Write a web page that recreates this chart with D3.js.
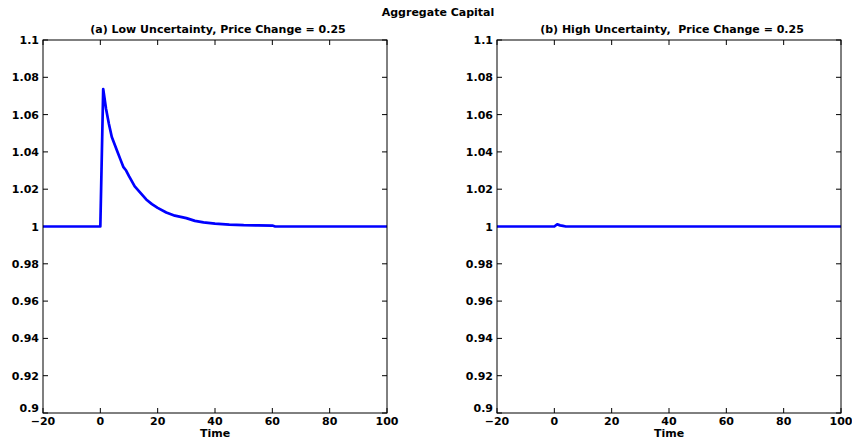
<!DOCTYPE html>
<html>
<head>
<meta charset="utf-8">
<script src="https://cdn.jsdelivr.net/npm/d3@7"></script>
<style>
  body { margin: 0; background: #fff; }
  text { font-family: "DejaVu Sans", sans-serif; font-weight: bold; fill: #000; }
</style>
</head>
<body>
<svg width="852" height="440"></svg>
<script>
var svg = d3.select("svg");

var xTicks = [-20, 0, 20, 40, 60, 80, 100],
    xTickLabels = ["\u221220", "0", "20", "40", "60", "80", "100"],
    yTicks = [0.9, 0.92, 0.94, 0.96, 0.98, 1, 1.02, 1.04, 1.06, 1.08, 1.1],
    yTickLabels = ["0.9", "0.92", "0.94", "0.96", "0.98", "1", "1.02", "1.04", "1.06", "1.08", "1.1"];

// (a) low uncertainty
var lowTime = [-20, 0, 1, 2, 3, 4, 5, 6, 7, 8, 9, 10, 12, 14, 16, 18, 20, 23, 26, 30, 33, 36, 40, 45, 50, 55, 60, 61, 100],
    lowValue = [1, 1, 1.0737, 1.063, 1.055, 1.048, 1.044, 1.040, 1.036, 1.032, 1.030, 1.027, 1.0215, 1.018, 1.0145,
                1.012, 1.010, 1.0075, 1.0058, 1.0045, 1.003, 1.0022, 1.0015, 1.001, 1.0007, 1.0006, 1.0005, 1, 1];

// (b) high uncertainty
var highTime = [-20, 0, 1, 2, 3, 4, 100],
    highValue = [1, 1, 1.0012, 1.0006, 1.0003, 1, 1];

var panels = [
  {title: "(a) Low Uncertainty, Price Change = 0.25", left: 43, time: lowTime, value: lowValue},
  {title: "(b) High Uncertainty,  Price Change = 0.25", left: 497, time: highTime, value: highValue}
];

var plotW = 344, plotTop = 40, plotBottom = 413, fs = 11;

svg.append("text")
    .attr("x", 438).attr("y", 16)
    .attr("text-anchor", "middle")
    .attr("font-size", fs)
    .text("Aggregate Capital");

panels.forEach(function(p) {
  var x = d3.scaleLinear().domain([-20, 100]).range([p.left, p.left + plotW]),
      y = d3.scaleLinear().domain([0.9, 1.1]).range([plotBottom, plotTop]);

  var g = svg.append("g");

  g.append("text")
      .attr("x", p.left + plotW / 2 + 3).attr("y", 33)
      .attr("text-anchor", "middle")
      .attr("font-size", fs)
      .style("white-space", "pre")
      .text(p.title);

  // inward ticks on all four sides
  g.selectAll(".xt").data(xTicks).enter().append("path")
      .attr("d", function(d) {
        return "M" + x(d) + "," + plotBottom + "v-5M" + x(d) + "," + plotTop + "v5";
      })
      .attr("stroke", "#000");
  g.selectAll(".yt").data(yTicks).enter().append("path")
      .attr("d", function(d) {
        return "M" + p.left + "," + y(d) + "h5M" + (p.left + plotW) + "," + y(d) + "h-5";
      })
      .attr("stroke", "#000");

  g.selectAll(".xl").data(xTicks).enter().append("text")
      .attr("x", function(d) { return x(d); })
      .attr("y", plotBottom + 12)
      .attr("text-anchor", "middle")
      .attr("font-size", fs)
      .text(function(d, i) { return xTickLabels[i]; });
  // the bottom label sits a little higher, clear of the x labels
  g.selectAll(".yl").data(yTicks).enter().append("text")
      .attr("x", p.left - 4)
      .attr("y", function(d, i) { return y(d) + (i === 0 ? -1 : 4); })
      .attr("text-anchor", "end")
      .attr("font-size", fs)
      .text(function(d, i) { return yTickLabels[i]; });

  g.append("text")
      .attr("x", p.left + plotW / 2).attr("y", 437)
      .attr("text-anchor", "middle")
      .attr("font-size", fs)
      .text("Time");

  var line = d3.line()
      .x(function(d, i) { return x(p.time[i]); })
      .y(function(d) { return y(d); });

  g.append("path")
      .attr("d", line(p.value))
      .attr("fill", "none")
      .attr("stroke", "#0000ff")
      .attr("stroke-width", 2.7)
      .attr("stroke-linejoin", "round");

  g.append("rect")
      .attr("x", p.left).attr("y", plotTop)
      .attr("width", plotW).attr("height", plotBottom - plotTop)
      .attr("fill", "none")
      .attr("stroke", "#000");
});
</script>
</body>
</html>
